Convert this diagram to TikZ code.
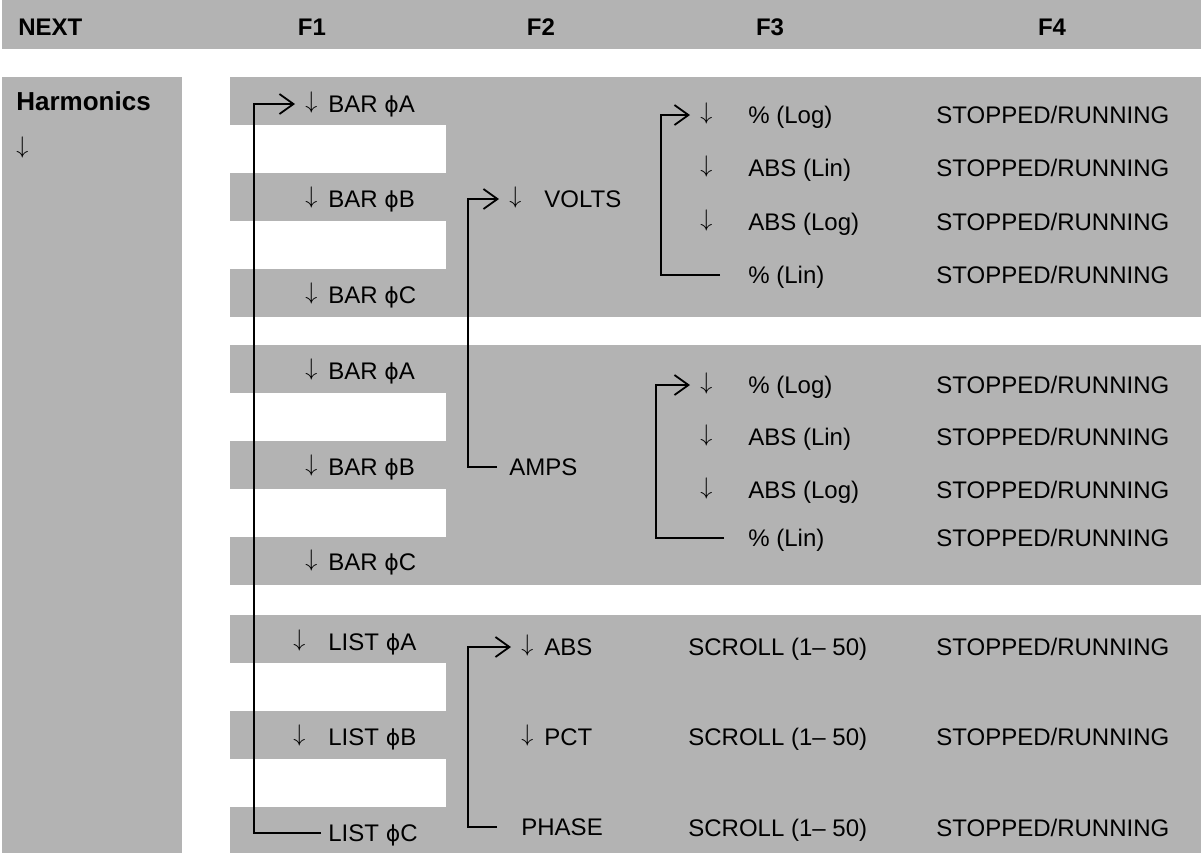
\documentclass[tikz,border=0pt]{standalone}
\usepackage{fontspec}
\setmainfont{Liberation Sans}
\newfontfamily\phifont{DejaVu Sans}
\usepackage{tikz}
\usetikzlibrary{arrows.meta}
\definecolor{panelgray}{RGB}{179,179,179}
\newcommand{\darr}{\raisebox{1.8pt}{$\downarrow$}}
\newcommand{\dn}[1]{\makebox[#1][l]{\darr}}
\newcommand{\ph}{{\phifont\fontsize{11}{13}\selectfont ϕ}}

\begin{document}
\begin{tikzpicture}[
    x=0.5pt, y=-0.5pt,
    item/.style={anchor=west, inner xsep=0pt, inner ysep=0pt, text height=8.5pt, text depth=0pt, font=\fontsize{12}{14}\selectfont},
    head/.style={item, font=\fontsize{12}{14}\selectfont\bfseries},
    link/.style={line width=0.9pt},
    arr/.style={link, -{Straight Barb[length=7pt,width=10pt]}, shorten >=5pt}
]
    \useasboundingbox (0,0) rectangle (1201,853);
    % grey panels
    \fill[panelgray] (2,0) rectangle (1201,49);
    \fill[panelgray] (2,77) rectangle (182,853);
    \fill[panelgray] (230,77) rectangle (1201,317);
    \fill[panelgray] (230,345) rectangle (1201,585);
    \fill[panelgray] (230,615) rectangle (1201,853);
    \foreach \t in {125,221,393,489,663,759}
        \fill[white] (230,\t) rectangle (446,{\t+48});

    % header
    \node[head] (next) at (18,27) {NEXT};
    \node[head, anchor=center] (f1) at (312,27) {F1};
    \node[head, anchor=center] (f2) at (541,27) {F2};
    \node[head, anchor=center] (f3) at (770,27) {F3};
    \node[head, anchor=center] (f4) at (1052,27) {F4};

    \node[head, font=\fontsize{13}{15}\selectfont\bfseries] (harm) at (16,102) {Harmonics};
    \node[item] (harmdn) at (16,149) {\darr};

    % F1 column
    \node[item] (barA1) at (305,104) {\dn{11.5pt}BAR \ph A};
    \node[item] (barB1) at (305,199) {\dn{11.5pt}BAR \ph B};
    \node[item] (barC1) at (305,295) {\dn{11.5pt}BAR \ph C};
    \node[item] (barA2) at (305,371) {\dn{11.5pt}BAR \ph A};
    \node[item] (barB2) at (305,467) {\dn{11.5pt}BAR \ph B};
    \node[item] (barC2) at (305,562) {\dn{11.5pt}BAR \ph C};
    \node[item] (listA) at (293,642) {\dn{17.5pt}LIST \ph A};
    \node[item] (listB) at (293,737) {\dn{17.5pt}LIST \ph B};
    \node[item] (listC) at (328,833) {LIST \ph C};

    % F2 column
    \node[item] (volts) at (509,199) {\dn{17.5pt}VOLTS};
    \node[item] (amps) at (509,467) {AMPS};
    \node[item] (absL) at (521,647) {\dn{11.5pt}ABS};
    \node[item] (pct) at (521,737) {\dn{11.5pt}PCT};
    \node[item] (phase) at (521,827) {PHASE};

    % F3 column
    \node[item] (logP1) at (700,115) {\dn{24pt}\% (Log)};
    \node[item] (absLin1) at (700,168) {\dn{24pt}ABS (Lin)};
    \node[item] (absLog1) at (700,222) {\dn{24pt}ABS (Log)};
    \node[item] (linP1) at (748,275) {\% (Lin)};
    \node[item] (logP2) at (700,385) {\dn{24pt}\% (Log)};
    \node[item] (absLin2) at (700,437) {\dn{24pt}ABS (Lin)};
    \node[item] (absLog2) at (700,490) {\dn{24pt}ABS (Log)};
    \node[item] (linP2) at (748,538) {\% (Lin)};
    \node[item] (scroll1) at (688,647) {SCROLL (1– 50)};
    \node[item] (scroll2) at (688,737) {SCROLL (1– 50)};
    \node[item] (scroll3) at (688,828) {SCROLL (1– 50)};

    % F4 column
    \foreach \y [count=\i] in {115,168,222,275,385,437,490,538,647,737,828}
        \node[item] (run\i) at (936,\y) {STOPPED/RUNNING};

    % loops back to the first entry
    \coordinate (railF1) at (254,0);
    \coordinate (railF2) at (468,0);
    \coordinate (railF3a) at (661,0);
    \coordinate (railF3b) at (656,0);
    \draw[arr, shorten <=3.5pt] (listC.west) -- (listC.west -| railF1) |- (barA1.west);
    \draw[arr, shorten <=6pt] (amps.west) -- (amps.west -| railF2) |- (volts.west);
    \draw[arr, shorten <=12pt] (phase.west) -- (phase.west -| railF2) |- (absL.west);
    \draw[arr, shorten <=14pt] (linP1.west) -- (linP1.west -| railF3a) |- (logP1.west);
    \draw[arr, shorten <=12pt] (linP2.west) -- (linP2.west -| railF3b) |- (logP2.west);
\end{tikzpicture}
\end{document}
